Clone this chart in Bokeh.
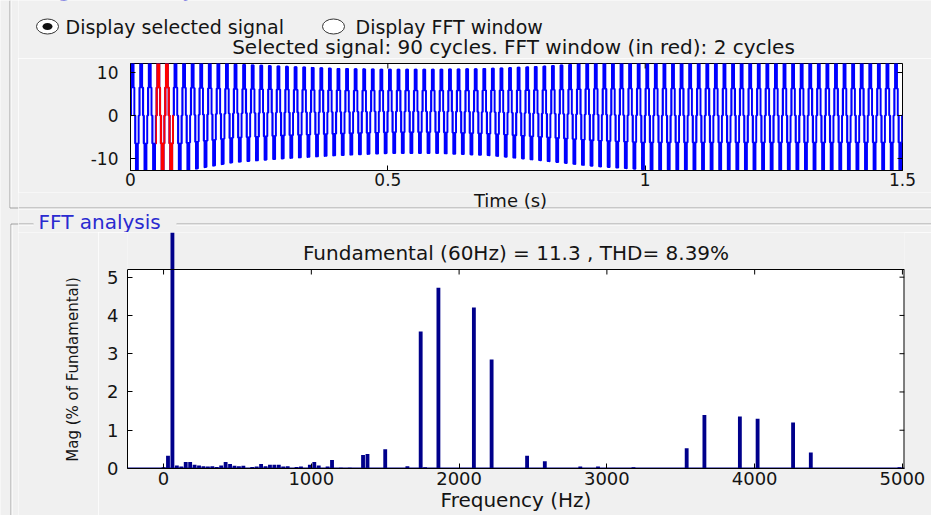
import numpy as np
from bokeh.plotting import figure
from bokeh.layouts import row, column
from bokeh.models import Range1d, FixedTicker, CustomJSTickFormatter
from bokeh.core.properties import value
from bokeh.embed import file_html
from bokeh.resources import INLINE

# ---------------- data ----------------
f0 = 60                      # Hz
fundamental_mag = 11.3
thd_pct = 8.39
n_cycles = 90
fft_cycles = 2
fft_start = 0.05             # s, start of the FFT window (red)
carrier_freq = 1980          # Hz, centre of the switching side-bands in the spectrum
mod_index = 0.88

time_ticks = [0, 0.5, 1, 1.5]
signal_ticks = [-10, 0, 10]
freq_ticks = [0, 1000, 2000, 3000, 4000, 5000]
mag_ticks = [0, 1, 2, 3, 4, 5]

# envelope of the selected signal (upper / lower extremes)
env_t   = [0.0, 0.1, 0.2, 0.3, 0.4, 0.5, 0.6, 0.7, 0.8, 0.9, 1.0, 1.5]
env_top = [13.0, 13.0, 11.9, 11.4, 10.9, 10.7, 10.7, 10.9, 11.4, 12.2, 12.6, 12.6]
env_bot = [-13.0, -13.0, -10.9, -10.0, -9.3, -8.8, -8.8, -9.3, -10.5, -11.8, -12.6, -12.6]

# FFT spectrum, % of fundamental
harm_freq = [0, 30, 60, 90, 120, 150, 180, 210, 240, 270,
             300, 330, 360, 390, 420, 450, 480, 510, 540, 600,
             630, 660, 690, 720, 750, 780, 810, 840, 900, 930,
             990, 1020, 1050, 1110, 1140, 1200, 1260, 1350, 1380, 1500,
             1650, 1740, 1770, 1860, 2100, 2220, 2460, 2580, 2820, 2940,
             3180, 3540, 3660, 3900, 4020, 4260, 4380, 4980]
harm_mag = [0.03, 0.33, 100, 0.08, 0.05, 0.17, 0.17, 0.10, 0.08, 0.06,
            0.05, 0.06, 0.04, 0.08, 0.17, 0.12, 0.07, 0.06, 0.07, 0.04,
            0.05, 0.12, 0.06, 0.10, 0.10, 0.10, 0.05, 0.06, 0.04, 0.05,
            0.10, 0.17, 0.08, 0.05, 0.22, 0.02, 0.02, 0.35, 0.38, 0.50,
            0.06, 3.58, 0.03, 4.72, 4.21, 2.85, 0.33, 0.19, 0.05, 0.05,
            0.03, 0.53, 1.40, 1.36, 1.30, 1.20, 0.42, 0.03]

# ---------------- styles ----------------
FONT = "DejaVu Sans"
BG = "#f0f0f0"
INK = "#141414"
EDGE = "#a0a0a0"
NAVY = "#00008B"
PANEL_BLUE = "#2a2ad0"
fmt = CustomJSTickFormatter(code="return String(tick)")

# ---------------- 5-level PWM signal (levels from the read envelope) ----------------
fs = 40000
t = np.arange(0, n_cycles / f0 + 0.5 / fs, 1 / fs)
top = np.interp(t, env_t, env_top)
bot = np.interp(t, env_t, env_bot)
E = (top - bot) / 4
off = (top + bot) / 2
u = 2 * mod_index * np.sin(2 * np.pi * f0 * t)
carrier = np.abs(((t * carrier_freq) % 1) * 2 - 1)
k = np.floor(u) + ((u - np.floor(u)) > carrier)
lev = off + E * k
idx = np.flatnonzero(np.diff(k) != 0) + 1
sx = np.concatenate([[t[0]], np.repeat(t[idx], 2), [t[-1]]])
sy = np.concatenate([[lev[0]], np.column_stack([lev[idx - 1], lev[idx]]).ravel(), [lev[-1]]])
win = (sx >= fft_start) & (sx <= fft_start + fft_cycles / f0)


def blank(w, h, xr, yr):
    p = figure(width=w, height=h, x_range=xr, y_range=yr, x_axis_type=None, y_axis_type=None,
               toolbar_location=None, output_backend="svg", min_border_left=0, min_border_right=0,
               min_border_top=0, min_border_bottom=0, outline_line_color=None,
               background_fill_color=BG, border_fill_color=BG, frame_align=False)
    p.xgrid.visible = False
    p.ygrid.visible = False
    return p


def style_axis(ax, tick_size, label_size="20px"):
    ax.major_tick_in = 5
    ax.major_tick_out = 0
    ax.minor_tick_line_color = None
    ax.axis_line_color = "black"
    ax.major_tick_line_color = "black"
    ax.major_label_text_font = FONT
    ax.major_label_text_font_size = tick_size
    ax.major_label_text_color = INK
    ax.axis_label_text_font = FONT
    ax.axis_label_text_font_size = label_size
    ax.axis_label_text_font_style = "normal"
    ax.axis_label_text_color = INK
    ax.formatter = fmt


# ---------------- left strip with panel borders (page px coords) ----------------
S = blank(18, 515, Range1d(0, 18), Range1d(515, 0))
S.segment(x0=[9.5, 10.5, 9.5, 10.5], y0=[0, 0, 207.5, 223.5], x1=[9.5, 10.5, 18, 18], y1=[207.5, 207, 207.5, 223.5],
          line_color=[EDGE, "white", EDGE, EDGE], line_width=1)
S.segment(x0=[10.5, 11.5], y0=[223.5, 224.5], x1=[10.5, 11.5], y1=[515, 515],
          line_color=[EDGE, "white"], line_width=1)

# ---------------- header: radio buttons + title ----------------
F1 = blank(913, 58, Range1d(18, 931), Range1d(58, 0))
F1.text(x=[38], y=[-10.5], text=["Signal to analyze"], text_font=value(FONT), text_font_size="21px",
        text_baseline="middle", text_align="left", text_color=PANEL_BLUE)
F1.ellipse(x=[47, 333], y=[26, 26], width=22, height=15, fill_color="white", line_color="#333333", line_width=1)
F1.ellipse(x=[47], y=[26], width=10, height=7, fill_color="#111111", line_color=None)
F1.text(x=[65, 355], y=[26, 26], text=["Display selected signal", "Display FFT window"],
        text_font=value(FONT), text_font_size="19px", text_baseline="middle", text_align="left", text_color=INK)
F1.text(x=[513], y=[46], text=[f"Selected signal: {n_cycles} cycles. FFT window (in red): {fft_cycles} cycles"],
        text_font=value(FONT), text_font_size="20px", text_baseline="middle", text_align="center", text_color=INK)

# ---------------- top plot: time signal ----------------
F2 = figure(width=913, height=134, x_range=Range1d(0, 1.5), y_range=Range1d(-12.8, 12.1),
            toolbar_location=None, output_backend="svg", frame_align=False,
            min_border_left=112, min_border_right=29, min_border_top=5, min_border_bottom=22,
            background_fill_color="white", border_fill_color=BG,
            outline_line_color="black", outline_line_width=1)
F2.xgrid.visible = False
F2.ygrid.visible = False
F2.line(sx, sy, line_color="#0000ff", line_width=1.5)
F2.line(sx[win], sy[win], line_color="#ff0000", line_width=1.5)
style_axis(F2.xaxis[0], "17px")
style_axis(F2.yaxis[0], "17px")
F2.xaxis.ticker = FixedTicker(ticks=time_ticks)
F2.yaxis.ticker = FixedTicker(ticks=signal_ticks)
F2.xaxis.major_label_standoff = 2
F2.yaxis.major_label_standoff = 12
xr2, yr2 = F2.x_range, F2.y_range
px_x2 = 772 / (xr2.end - xr2.start)
px_y2 = 107 / (yr2.end - yr2.start)
F2.segment(x0=time_ticks, y0=[yr2.end] * len(time_ticks), x1=time_ticks,
           y1=[yr2.end - 5 / px_y2] * len(time_ticks), line_color="black", line_width=1)
F2.segment(x0=[xr2.end] * len(signal_ticks), y0=signal_ticks, x1=[xr2.end - 5 / px_x2] * len(signal_ticks),
           y1=signal_ticks, line_color="black", line_width=1)

# ---------------- middle strip: x label, panel borders, "FFT analysis" ----------------
F3 = blank(913, 40, Range1d(18, 931), Range1d(232, 192))
F3.segment(x0=[18, 18, 18, 176, 18, 176], y0=[207.5, 208.5, 223.5, 223.5, 224.5, 224.5],
           x1=[931, 931, 33, 931, 33, 931], y1=[207.5, 208.5, 223.5, 223.5, 224.5, 224.5],
           line_color=[EDGE, "white", EDGE, EDGE, "white", "white"], line_width=1)
F3.text(x=[510], y=[199.5], text=["Time (s)"], text_font=value(FONT), text_font_size="18px",
        text_baseline="middle", text_align="center", text_color=INK)
F3.text(x=[38], y=[221], text=["FFT analysis"], text_font=value(FONT), text_font_size="20px",
        text_baseline="middle", text_align="left", text_color=PANEL_BLUE)

# ---------------- bottom plot: FFT bars ----------------
mag_top = 5.2
F4L = blank(80, 283, Range1d(18, 98), Range1d(0, 283))
F4L.text(x=[72], y=[515 - 369], text=["Mag (% of Fundamental)"], angle=np.pi / 2,
         text_font=value(FONT), text_font_size="15px", text_baseline="middle", text_align="center",
         text_color=INK)

F4 = figure(width=833, height=283, x_range=Range1d(-244, 5014), y_range=Range1d(0, 6.167),
            toolbar_location=None, output_backend="svg", frame_align=False,
            min_border_left=29, min_border_right=27, min_border_top=0, min_border_bottom=47,
            background_fill_color=BG, border_fill_color=BG, outline_line_color=None)
F4.xgrid.visible = False
F4.ygrid.visible = False
xr = F4.x_range
px_x4 = 777 / (xr.end - xr.start)
px_y4 = 236 / (F4.y_range.end - F4.y_range.start)
F4.quad(left=[xr.start], right=[xr.end], bottom=[0], top=[mag_top], fill_color="white", line_color=None)
F4.vbar(x=harm_freq, top=harm_mag, width=26, fill_color=NAVY, line_color=None)
F4.line([xr.start, xr.end], [0, 0], line_color=NAVY, line_width=2)
# box top and right edges, with inward ticks
F4.segment(x0=[xr.start], y0=[mag_top], x1=[xr.end], y1=[mag_top], line_color="black", line_width=1)
F4.segment(x0=[xr.end], y0=[0], x1=[xr.end], y1=[mag_top], line_color="black", line_width=2)
F4.segment(x0=freq_ticks, y0=[mag_top] * len(freq_ticks), x1=freq_ticks,
           y1=[mag_top - 5 / px_y4] * len(freq_ticks), line_color="black", line_width=1)
F4.segment(x0=[xr.end] * len(mag_ticks), y0=mag_ticks, x1=[xr.end - 5 / px_x4] * len(mag_ticks),
           y1=mag_ticks, line_color="black", line_width=1)
style_axis(F4.xaxis[0], "18px", "20px")
style_axis(F4.yaxis[0], "18px")
F4.xaxis.ticker = FixedTicker(ticks=freq_ticks)
F4.yaxis.ticker = FixedTicker(ticks=mag_ticks)
F4.yaxis.bounds = (0, mag_top)
F4.xaxis.axis_label = "Frequency (Hz)"
F4.xaxis.major_label_standoff = 3
F4.xaxis.axis_label_standoff = 0
F4.yaxis.major_label_standoff = 9

F4.text(x=[(xr.start + xr.end) / 2], y=[5.64],
        text=[f"Fundamental ({f0}Hz) = {fundamental_mag} , THD= {thd_pct}%"],
        text_font=value(FONT), text_font_size="20px", text_baseline="middle", text_align="center", text_color=INK)

layout = row(S, column(F1, F2, F3, row(F4L, F4)))
open("out.html", "w").write(file_html(layout, INLINE))
